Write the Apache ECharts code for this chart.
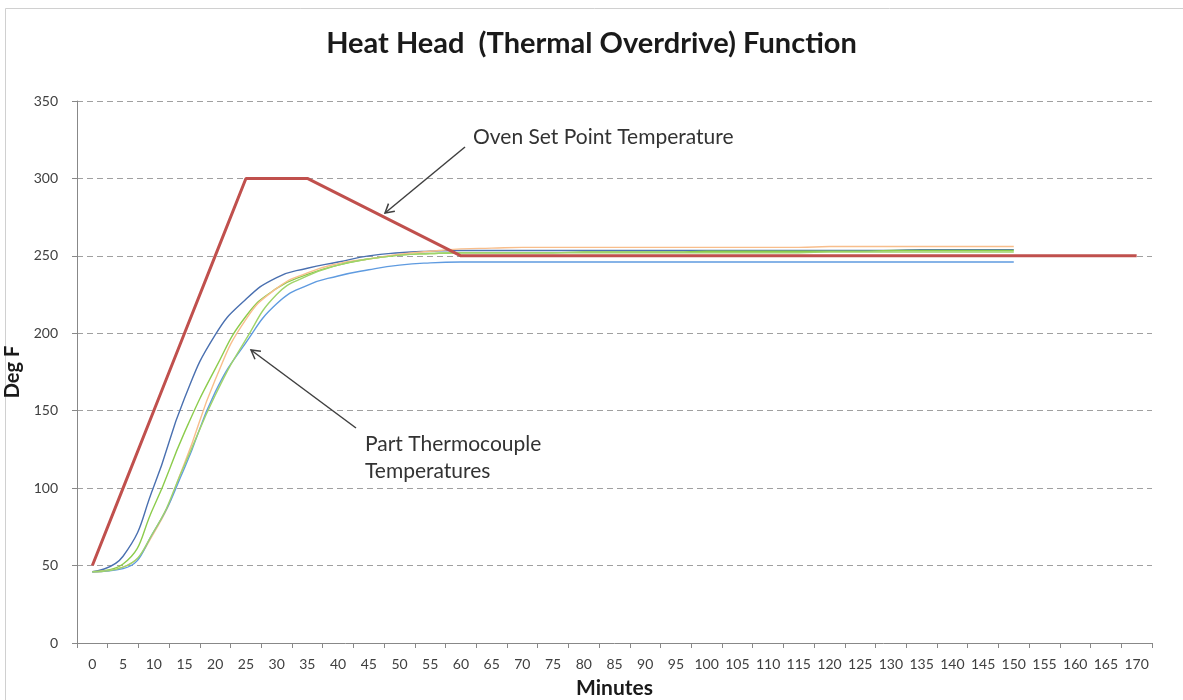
<!DOCTYPE html>
<html>
<head>
<meta charset="utf-8">
<script src="https://cdn.jsdelivr.net/npm/echarts@6/dist/echarts.min.js"></script>
<style>
html,body{margin:0;padding:0;background:#fff;}
#chart{width:1183px;height:700px;}
</style>
</head>
<body>
<div id="chart"></div>
<script>
// Minutes (category axis)
var minutes = ['0','5','10','15','20','25','30','35','40','45','50','55','60','65','70','75','80','85','90','95','100','105','110','115','120','125','130','135','140','145','150','155','160','165','170'];
var yTicks = [0, 50, 100, 150, 200, 250, 300, 350];

// Oven set point (Deg F)
var ovenSetPoint = [50,100,150,200,250,300,300,300,290,280,270,260,250,250,250,250,250,250,250,250,250,250,250,250,250,250,250,250,250,250,250,250,250,250,250];

// Part thermocouple temperatures (Deg F), 0..150 min
var tcDarkBlue  = [46,56,101,158,199,222,236,242,246,250,252,253,253.5,253.5,253.5,253.5,253.5,253.5,253.5,253.5,253.5,253.5,253.5,253.5,253.5,253.5,253.5,254,254,254,254];
var tcGreen     = [46,51,88,136,177,211,229,238,244,248,250.5,251.5,252,252,252,252,252.5,252.5,252.5,252.5,253,253,253,253,253,253,253.5,253.5,253.5,253.5,253.5];
var tcOrange    = [46,49,71,116,170,209,229,239,245,248,251,253,254.5,255,255.5,255.5,255.5,255.5,255.5,255.5,255.5,255.5,255.5,255.5,256,256,256,256,256,256,256];
var tcLightBlue = [46,48,72,113,162,194,219,231,237,241,244,245.5,246,246,246,246,246,246,246,246,246,246,246,246,246,246,246,246,246,246,246];
var tcLightGreen= [46,49,72,115,160,196,225,237,244,248,250.5,251.5,252,252,252,252,252,252,252,252,252,252,252,252,252.5,252.5,252.5,252.5,252.5,252.5,252.5];

var chart = echarts.init(document.getElementById('chart'));
var FONT = 'Lato';

function arrow(x1, y1, x2, y2) {
  var dx = x1 - x2, dy = y1 - y2, L = Math.sqrt(dx*dx + dy*dy);
  var ux = dx / L, uy = dy / L, a = Math.PI / 6, h = 10;
  var c = Math.cos(a), s = Math.sin(a);
  var p1 = [x2 + h*(ux*c - uy*s), y2 + h*(ux*s + uy*c)];
  var p2 = [x2 + h*(ux*c + uy*s), y2 + h*(-ux*s + uy*c)];
  return [
    {type:'line', shape:{x1:x1,y1:y1,x2:x2,y2:y2}, style:{stroke:'#404040', lineWidth:1.5}, z:100},
    {type:'polyline', shape:{points:[p1,[x2,y2],p2]}, style:{stroke:'#404040', lineWidth:1.5, fill:null}, z:100}
  ];
}

function tcSeries(name, data, color) {
  return {
    name: name, type: 'line', data: data, smooth: 0.5,
    symbol: 'none', lineStyle: {color: color, width: 1.4}, itemStyle:{color:color}, z: 3
  };
}

var graphics = [
  {type:'rect', shape:{x:5.5, y:8.5, width:1200, height:720}, style:{stroke:'#d0d0d0', lineWidth:1, fill:null}, silent:true, z:-1},
  {type:'text', left:473, top:127, style:{text:'Oven Set Point Temperature', font:'21px ' + FONT, fill:'#333'}, z:100},
  {type:'text', left:365, top:431, style:{text:'Part Thermocouple\nTemperatures', font:'21px ' + FONT, fill:'#333', lineHeight:27}, z:100}
].concat(arrow(465, 147, 385, 213)).concat(arrow(356, 428, 251, 350));

chart.setOption({
  animation: false,
  backgroundColor: '#fff',
  title: {
    text: 'Heat Head  (Thermal Overdrive) Function',
    left: 'center', top: 24,
    textStyle: {fontFamily: FONT, fontWeight: 'bold', fontSize: 29, color: '#1a1a1a'}
  },
  grid: {left: 77, right: 31, top: 101, bottom: 57, containLabel: false, outerBoundsMode: 'none'},
  xAxis: {
    type: 'category', data: minutes, boundaryGap: true,
    name: 'Minutes', nameLocation: 'middle', nameGap: 35,
    nameTextStyle: {fontFamily: FONT, fontWeight: 'bold', fontSize: 21, color: '#1a1a1a'},
    axisLine: {lineStyle: {color: '#888', width: 1}},
    axisTick: {show: true, alignWithLabel: false, length: 5, interval: 0, lineStyle: {color: '#888'}},
    axisLabel: {interval: 0, fontFamily: FONT, fontSize: 14, color: '#404040', margin: 14},
    splitLine: {show: false}
  },
  yAxis: {
    type: 'value', min: 0, max: 350, interval: 50,
    name: 'Deg F', nameLocation: 'middle', nameGap: 47, nameRotate: 90,
    nameTextStyle: {fontFamily: FONT, fontWeight: 'bold', fontSize: 20, color: '#1a1a1a'},
    axisLine: {show: true, lineStyle: {color: '#888', width: 1}},
    axisTick: {show: true, length: 5, lineStyle: {color: '#888'}},
    axisLabel: {fontFamily: FONT, fontSize: 14, color: '#404040', margin: 19},
    splitLine: {show: true, lineStyle: {color: '#a0a0a0', type: [6, 4], width: 1}}
  },
  series: [
    tcSeries('TC1', tcDarkBlue, '#4a70b0'),
    tcSeries('TC2', tcGreen, '#8ccc4c'),
    tcSeries('TC3', tcOrange, '#f8be8c'),
    tcSeries('TC4', tcLightBlue, '#5f9be0'),
    tcSeries('TC5', tcLightGreen, '#9fd46a'),
    {
      name: 'Oven Set Point', type: 'line', data: ovenSetPoint, symbol: 'none',
      lineStyle: {color: '#c0504d', width: 3}, itemStyle:{color:'#c0504d'}, z: 5
    }
  ],
  graphic: graphics
});
</script>
</body>
</html>
